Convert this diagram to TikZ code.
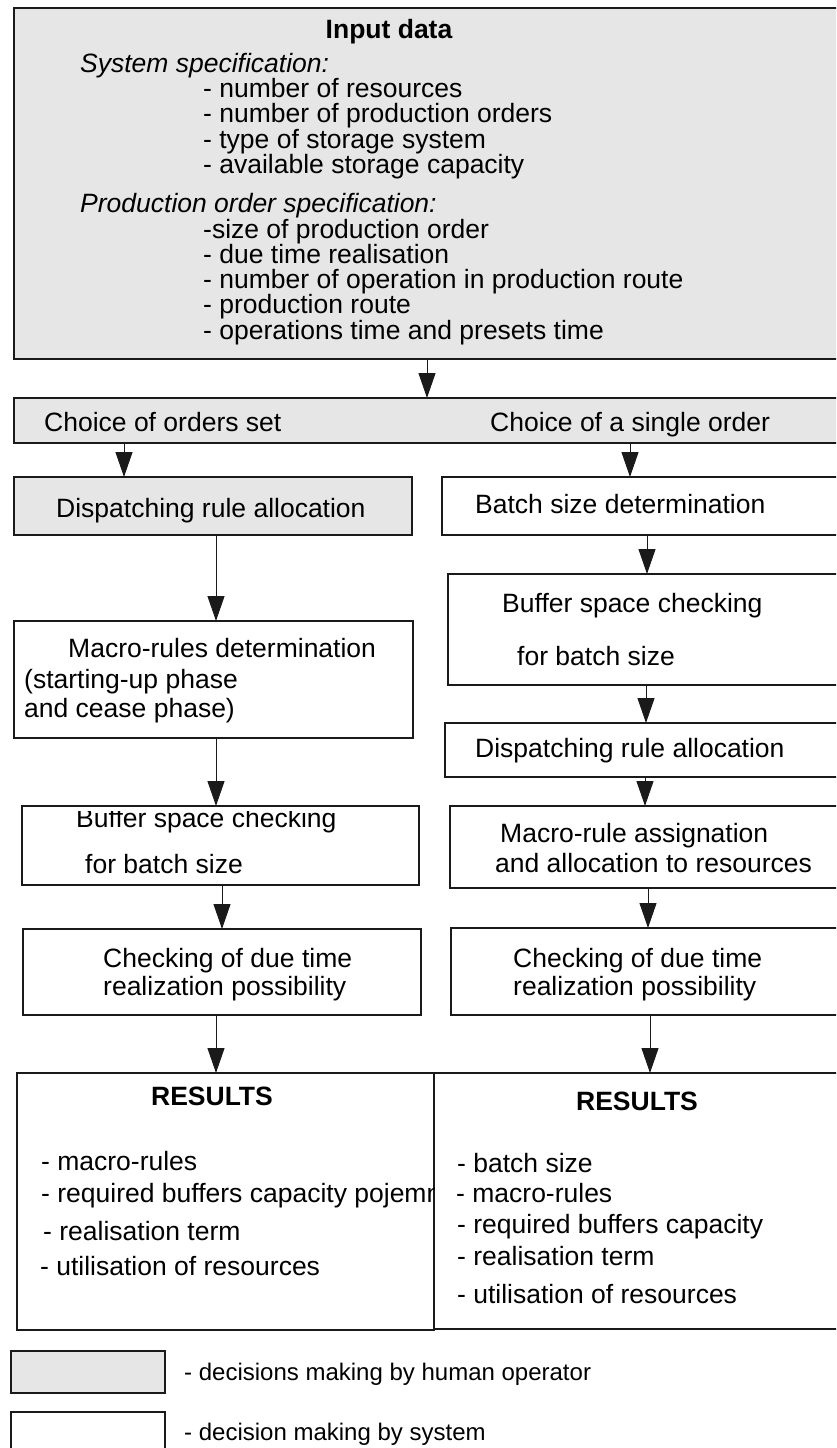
\documentclass[tikz,border=0pt]{standalone}
\usepackage{fontspec}
\setmainfont{Liberation Sans}
\usetikzlibrary{arrows.meta,positioning}
\definecolor{human}{HTML}{E6E6E6}
\definecolor{edge}{HTML}{1A1A1A}
\newcommand{\boxfont}{\fontsize{26.5}{25.5}\selectfont}
\newcommand{\legfont}{\fontsize{24}{24}\selectfont}

\begin{document}
\begin{tikzpicture}[
        x=1pt, y=-1pt,
        block/.style={
            rectangle,
            draw=edge,
            line width=1.2pt,
            fill=white,
            inner sep=0pt,
            outer sep=0pt,
            anchor=north west
        },
        byhuman/.style={
            fill=human
        },
        txt/.style={
            font=\boxfont,
            inner sep=0pt,
            anchor=base west
        },
        arrow/.style={
            -{Triangle[length=25pt,width=17pt]},
            line width=1pt,
            color=edge
        }
    ]
        \useasboundingbox (0,0) rectangle (836,1448);
        \clip (0,0) rectangle (836,1448);

        % Boxes
        \node (input) [block, byhuman, minimum width=836pt, minimum height=351pt] at (14,8) {};
        \node (choice) [block, byhuman, minimum width=836pt, minimum height=45pt] at (14,398) {};
        \node (dra) [block, byhuman, minimum width=398pt, minimum height=58pt] at (14,477) {};
        \node (mac) [block, minimum width=399pt, minimum height=117pt] at (14,621) {};
        \node (buf) [block, minimum width=397pt, minimum height=79pt] at (22,806) {};
        \node (chk) [block, minimum width=398pt, minimum height=86pt] at (23,929) {};
        \node (res) [block, minimum width=417pt, minimum height=257pt] at (17,1073) {};
        \node (batch) [block, minimum width=408pt, minimum height=58pt] at (442,477) {};
        \node (bufr) [block, minimum width=402pt, minimum height=111pt] at (448,574) {};
        \node (drar) [block, minimum width=405pt, minimum height=54pt] at (445,723) {};
        \node (mra) [block, minimum width=400pt, minimum height=82pt] at (450,806) {};
        \node (chkr) [block, minimum width=399pt, minimum height=87pt] at (451,928) {};
        \node (resr) [block, minimum width=416pt, minimum height=256pt] at (434,1073) {};
        \node (leghuman) [block, byhuman, minimum width=154pt, minimum height=42pt] at (11,1351) {};
        \node (legsystem) [block, minimum width=154pt, minimum height=60pt] at (11,1412) {};

        % Input data
        \node (intitle) [txt, font=\boxfont\bfseries, anchor=base] at (389,38) {Input data};
        \node (sysspec) [txt, font=\boxfont\itshape] at (80,72) {System specification:};
        \node (sys1) [txt] at (203,97) {- number of resources};
        \node (sys2) [txt] at (203,122.5) {- number of production orders};
        \node (sys3) [txt] at (203,148) {- type of storage system};
        \node (sys4) [txt] at (203,173.5) {- available storage capacity};
        \node (prodspec) [txt, font=\boxfont\itshape] at (80,212) {Production order specification:};
        \node (prod1) [txt] at (203,238) {-size of production order};
        \node (prod2) [txt] at (203,263) {- due time realisation};
        \node (prod3) [txt] at (203,288) {- number of operation in production route};
        \node (prod4) [txt] at (203,313) {- production route};
        \node (prod5) [txt] at (203,339) {- operations time and presets time};

        % Choice
        \node (choiceset) [txt] at (44,431) {Choice of orders set};
        \node (choicesingle) [txt] at (490,431) {Choice of a single order};

        % Column 1
        \node (dratext) [txt] at (56,517) {Dispatching rule allocation};
        \node (mac1) [txt] at (68,657) {Macro-rules determination};
        \node (mac2) [txt] at (24,688) {(starting-up phase};
        \node (mac3) [txt] at (24,717) {and cease phase)};
        \begin{scope}
            \clip ([yshift=-5pt]buf.north west) rectangle (buf.south east);
            \node (buf1) [txt] at (76,827) {Buffer space checking};
        \end{scope}
        \node (buf2) [txt] at (85,873) {for batch size};
        \node (chk1) [txt] at (103,967) {Checking of due time};
        \node (chk2) [txt] at (103,995) {realization possibility};
        \node (restitle) [txt, font=\boxfont\bfseries, anchor=base] at (212,1105) {RESULTS};
        \node (res1) [txt] at (41,1170) {- macro-rules};
        \begin{scope}
            \clip (res.north west) rectangle (res.south east);
            \node (res2) [txt] at (41,1202) {- required buffers capacity pojemn};
        \end{scope}
        \node (res3) [txt] at (43,1240) {- realisation term};
        \node (res4) [txt] at (40,1275) {- utilisation of resources};

        % Column 2
        \node (batchtext) [txt] at (475,513) {Batch size determination};
        \node (bufr1) [txt] at (502,612) {Buffer space checking};
        \node (bufr2) [txt] at (517,665) {for batch size};
        \node (drartext) [txt] at (475,757) {Dispatching rule allocation};
        \node (mra1) [txt] at (500,842) {Macro-rule assignation};
        \node (mra2) [txt] at (495,872) {and allocation to resources};
        \node (chkr1) [txt] at (513,967) {Checking of due time};
        \node (chkr2) [txt] at (513,995) {realization possibility};
        \node (restitler) [txt, font=\boxfont\bfseries, anchor=base] at (637,1110) {RESULTS};
        \node (resr1) [txt] at (457,1172) {- batch size};
        \node (resr2) [txt] at (456,1202) {- macro-rules};
        \node (resr3) [txt] at (457,1233) {- required buffers capacity};
        \node (resr4) [txt] at (457,1265) {- realisation term};
        \node (resr5) [txt] at (457,1303) {- utilisation of resources};

        % Legend
        \node (leghumantext) [txt, font=\legfont] at (184,1380) {- decisions making by human operator};
        \node (legsystemtext) [txt, font=\legfont] at (184,1440) {- decision making by system};

        % Edges
        \draw[arrow] (input.south -| 427,0) -- (choice.north -| 427,0);
        \draw[arrow] (choice.south -| 124,0) -- (dra.north -| 124,0);
        \draw[arrow] (choice.south -| 630,0) -- (batch.north -| 630,0);

        % Edges Col 1
        \draw[arrow] (dra.south -| 216,0) -- (mac.north -| 216,0);
        \draw[arrow] (mac.south -| 216,0) -- (buf.north -| 216,0);
        \draw[arrow] (buf.south -| 222,0) -- (chk.north -| 222,0);
        \draw[arrow] (chk.south -| 216,0) -- (res.north -| 216,0);

        % Edges Col 2
        \draw[arrow] (batch.south -| 647,0) -- (bufr.north -| 647,0);
        \draw[arrow] (bufr.south -| 646,0) -- (drar.north -| 646,0);
        \draw[arrow] (drar.south -| 645,0) -- (mra.north -| 645,0);
        \draw[arrow] (mra.south -| 648,0) -- (chkr.north -| 648,0);
        \draw[arrow] (chkr.south -| 650,0) -- (resr.north -| 650,0);

    \end{tikzpicture}
\end{document}
